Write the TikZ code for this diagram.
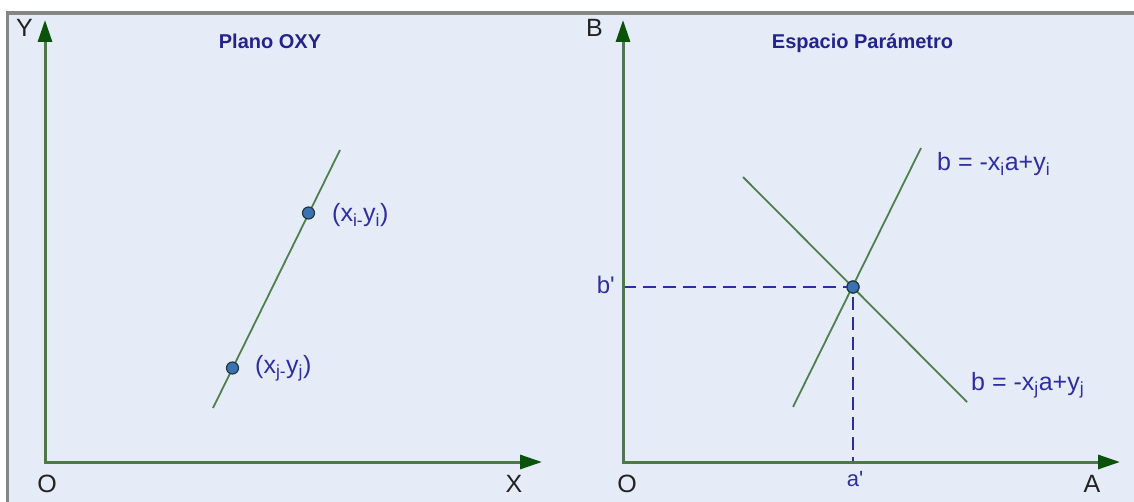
\documentclass[tikz,border=0pt]{standalone}
\usepackage{fontspec}
\setmainfont{Liberation Sans}
\usetikzlibrary{arrows.meta}
\definecolor{bgc}{HTML}{E6ECF7}
\definecolor{framec}{HTML}{858585}
\definecolor{axc}{HTML}{4A7A4A}
\definecolor{tipc}{HTML}{0B520B}
\definecolor{linec}{HTML}{4F7F4F}
\definecolor{labc}{HTML}{2E2EA0}
\definecolor{titc}{HTML}{23238C}
\definecolor{ptc}{HTML}{3C72B4}
\definecolor{ptdraw}{HTML}{1E3A3A}
\definecolor{axlab}{HTML}{222222}
\begin{document}
\begin{tikzpicture}[x=1pt,y=-1pt,
 axisline/.style={draw=axc, line width=3pt,
   {Triangle[length=22pt,width=14pt,color=tipc]}-{Triangle[length=22pt,width=14pt,color=tipc]}},
 gline/.style={draw=linec, line width=1.8pt},
 dline/.style={draw=labc, line width=1.8pt, dash pattern=on 13pt off 7pt},
 dotnode/.style={circle, draw=ptdraw, fill=ptc, line width=1.2pt, inner sep=0pt, minimum size=12pt},
 axlabel/.style={text=axlab, inner sep=0pt, font=\fontsize{25}{30}\selectfont, anchor=base},
 lab/.style={text=labc, inner sep=0pt, font=\fontsize{25}{30}\selectfont, anchor=base west},
 ttl/.style={text=titc, inner sep=0pt, font=\fontsize{20}{24}\selectfont\bfseries, anchor=base},
]
\useasboundingbox (0,0) rectangle (1134,502);
% background and frame
\fill[bgc] (8,13) rectangle (1134,502);
\draw[framec, line width=2.5pt] (7.5,502) -- (7.5,13);
\draw[framec, line width=3.5pt] (6.25,13) -- (1134,13);

% ---------- left panel ----------
\coordinate (O1) at (45,462);
\coordinate (Ytip) at (45,20);
\coordinate (Xtip) at (542,462);
\draw[axisline] (Ytip) -- (O1) -- (Xtip);
\coordinate (L0a) at (213,408);
\coordinate (L0b) at (340,150);
\draw[gline] (L0a) -- (L0b);
\node[dotnode] (Pi) at (308.5,213) {};
\node[dotnode] (Pj) at (232.5,368) {};
\node[lab] (lPi) at (332,222) {(x\textsubscript{i-}y\textsubscript{i})};
\node[lab] (lPj) at (255,373) {(x\textsubscript{j-}y\textsubscript{j})};
\node[axlabel] (lY) at (24.5,37) {Y};
\node[axlabel] (lO1) at (47,492) {O};
\node[axlabel] (lX) at (514,492) {X};
\node[ttl] (t1) at (270,49) {Plano OXY};

% ---------- right panel ----------
\coordinate (O2) at (623,462);
\coordinate (Btip) at (623,20);
\coordinate (Atip) at (1120,462);
\coordinate (Bp) at (623,287);
\coordinate (Ap) at (853,462);
\node[dotnode] (P) at (853,287) {};
\draw[dline] (Bp) -- (P.center) -- (Ap);
\draw[axisline] (Btip) -- (O2) -- (Atip);
\coordinate (L1a) at (793,407);
\coordinate (L1b) at (921,148);
\coordinate (L2a) at (743,177);
\coordinate (L2b) at (967,402);
\draw[gline] (L1a) -- (L1b);
\draw[gline] (L2a) -- (L2b);
\node[dotnode] (P2) at (P) {};
\node[lab] (eqi) at (937,171) {b = -x\textsubscript{i}a+y\textsubscript{i}};
\node[lab] (eqj) at (971,390) {b = -x\textsubscript{j}a+y\textsubscript{j}};
\node[text=labc, inner sep=0pt, font=\fontsize{24}{28}\selectfont, anchor=base east] (lb) at (615,294) {b\textquotesingle};
\node[text=labc, inner sep=0pt, font=\fontsize{22}{26}\selectfont, anchor=base] (la) at (855,486) {a\textquotesingle};
\node[axlabel] (lB) at (594.5,37) {B};
\node[axlabel] (lO2) at (627,492) {O};
\node[axlabel] (lA) at (1092,492) {A};
\node[ttl] (t2) at (862.5,49) {Espacio Parámetro};
\end{tikzpicture}
\end{document}
